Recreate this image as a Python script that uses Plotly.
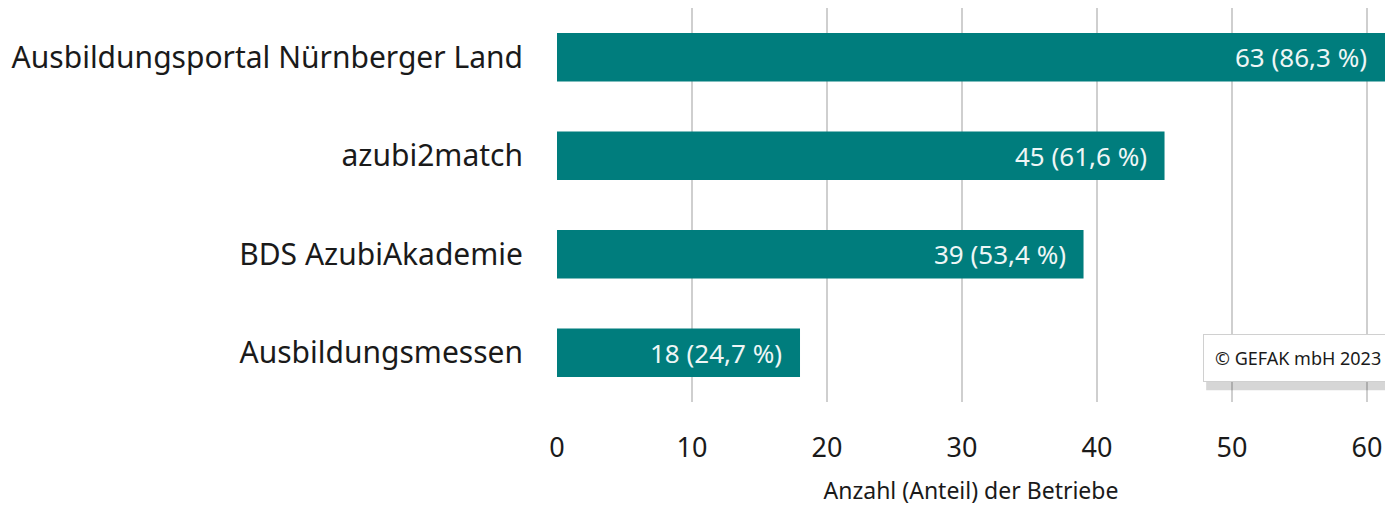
import plotly.graph_objects as go

categories = ["Ausbildungsportal Nürnberger Land", "azubi2match", "BDS AzubiAkademie", "Ausbildungsmessen"]
counts = [63, 45, 39, 18]
shares = ["86,3", "61,6", "53,4", "24,7"]
x_ticks = [0, 10, 20, 30, 40, 50, 60]

TEAL = "#007d7d"
FONT = "Noto Sans"
X_MAX = 61.33  # the original chart is cropped just past 60

labels = [f"{c} ({s} %)" for c, s in zip(counts, shares)]

fig = go.Figure()
fig.add_trace(
    go.Bar(
        x=counts,
        y=categories,
        orientation="h",
        marker=dict(color=TEAL, line=dict(width=0)),
        width=0.49,
        hoverinfo="skip",
    )
)

# value labels at the bar ends (clamped so the cropped first bar keeps its label)
for c, cat, lab in zip(counts, categories, labels):
    fig.add_annotation(
        x=min(c, X_MAX), y=cat, xref="x", yref="y", text=lab, showarrow=False,
        xanchor="right", xshift=-16,
        font=dict(family=FONT, size=26, color="#eef6f6"),
    )

# copyright box with a soft shadow
fig.add_shape(type="rect", xref="paper", yref="paper", x0=0.784, x1=1.05, y0=0.03, y1=0.155,
              fillcolor="rgba(0,0,0,0.16)", line=dict(width=0), layer="above")
fig.add_annotation(
    xref="paper", yref="paper", x=0.780, y=0.1125, xanchor="left", yanchor="middle",
    text="© GEFAK mbH 2023", showarrow=False,
    font=dict(family=FONT, size=18, color="#1a1a1a"),
    bgcolor="white", bordercolor="#d0d0d0", borderwidth=1, borderpad=11,
)

fig.update_layout(
    width=1377,
    height=498,
    margin=dict(l=549, r=0, t=0, b=98),
    paper_bgcolor="white",
    plot_bgcolor="white",
    showlegend=False,
    font=dict(family=FONT, color="#1a1a1a"),
    bargap=0.51,
)
fig.update_xaxes(
    range=[0, X_MAX],
    tickvals=x_ticks,
    showgrid=True,
    gridcolor="#cfcfcf",
    gridwidth=2,
    zeroline=False,
    showline=False,
    tickfont=dict(family=FONT, size=27, color="#1a1a1a"),
    ticklabelstandoff=27,
    title=dict(text="Anzahl (Anteil) der Betriebe", font=dict(family=FONT, size=23, color="#1a1a1a"), standoff=25),
)
fig.update_yaxes(
    categoryorder="array",
    categoryarray=categories[::-1],
    showgrid=False,
    zeroline=False,
    showline=False,
    tickfont=dict(family=FONT, size=30, color="#1a1a1a"),
    ticklabelstandoff=33,
)

fig.write_html("out.html")
